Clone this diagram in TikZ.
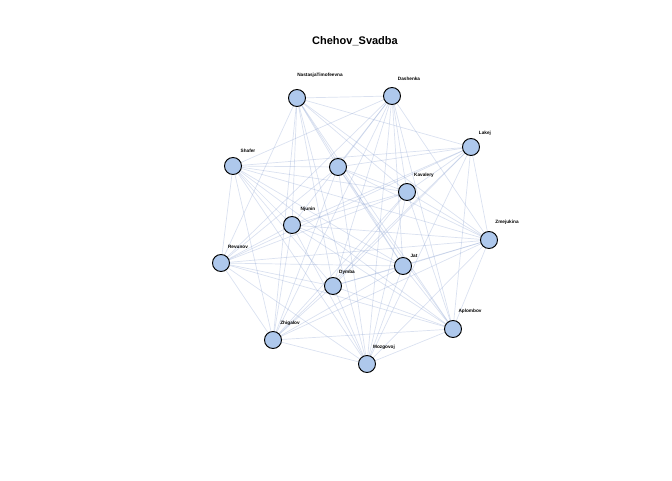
\documentclass[tikz,border=0pt]{standalone}
\usepackage{fontspec}
\setmainfont{Liberation Sans}
\usepackage{tikz}
\usetikzlibrary{positioning}
\definecolor{svedge}{HTML}{8FA5D2}
\definecolor{svnode}{HTML}{AEC8EC}
\tikzset{
  actor/.style={circle, draw=black, line width=0.95pt, fill=svnode, minimum size=17pt, inner sep=0pt},
  actorname/.style={font=\bfseries\fontsize{4.7}{5}\selectfont, inner sep=0pt},
  tie/.style={draw=svedge, line width=0.7pt, opacity=0.33}
}

\begin{document}
\begin{tikzpicture}[x=1pt, y=-1pt]
  \useasboundingbox (0,0) rectangle (672,480);
  \node[font=\bfseries\fontsize{11}{13}\selectfont] (title) at (355,41) {Chehov\_Svadba};
  % actors
  \coordinate (nast) at (297,98);
  \coordinate (dash) at (392,96);
  \coordinate (lakej) at (471,147);
  \coordinate (shafer) at (233,166);
  \coordinate (unl) at (338,167);
  \coordinate (kav) at (407,192);
  \coordinate (zmej) at (489,240);
  \coordinate (njun) at (292,225);
  \coordinate (revun) at (221,263);
  \coordinate (jat) at (403,266);
  \coordinate (dymba) at (333,286);
  \coordinate (aplom) at (453,329);
  \coordinate (zhig) at (273,340);
  \coordinate (mozg) at (367,364);
  \foreach \a/\b in {nast/dash, nast/lakej, nast/zmej, nast/unl, nast/kav, nast/njun,
      nast/revun, nast/dymba, nast/zhig, nast/mozg, nast/jat, nast/aplom,
      dash/shafer, dash/unl, dash/njun, dash/dymba, dash/zhig, dash/mozg, dash/jat,
      dash/aplom, dash/zmej, dash/revun, dash/kav,
      lakej/shafer, lakej/unl, lakej/kav, lakej/zmej, lakej/njun, lakej/revun,
      lakej/dymba, lakej/mozg, lakej/aplom, lakej/zhig,
      shafer/unl, shafer/kav, shafer/zmej, shafer/njun, shafer/revun, shafer/dymba,
      shafer/zhig, shafer/jat, shafer/aplom, shafer/mozg,
      unl/kav, unl/zmej, unl/revun, unl/jat, unl/aplom, unl/mozg, unl/zhig,
      kav/zmej, kav/njun, kav/revun, kav/dymba, kav/aplom, kav/mozg, kav/zhig,
      zmej/njun, zmej/revun, zmej/jat, zmej/dymba, zmej/aplom, zmej/zhig, zmej/mozg,
      njun/revun, njun/jat, njun/aplom, njun/mozg, njun/zhig,
      revun/jat, revun/dymba, revun/aplom, revun/zhig, revun/mozg,
      jat/dymba, jat/aplom, jat/zhig, jat/mozg,
      dymba/aplom, dymba/mozg, dymba/zhig,
      aplom/zhig, aplom/mozg, zhig/mozg}
    \draw[tie] (\a) -- (\b);
  \foreach \n in {nast, dash, lakej, shafer, unl, kav, zmej, njun, revun, jat, dymba, aplom, zhig, mozg}
    \node[actor] (\n-c) at (\n) {};
  % names
  \node[actorname] (nast-l) at (320,75) {NastasjaTimofeevna};
  \node[actorname] (dash-l) at (409,79) {Dashenka};
  \node[actorname] (lakej-l) at (485,133) {Lakej};
  \node[actorname] (shafer-l) at (248,151) {Shafer};
  \node[actorname] (kav-l) at (424,175) {Kavalery};
  \node[actorname] (zmej-l) at (507,222) {Zmejukina};
  \node[actorname] (njun-l) at (308,209) {Njunin};
  \node[actorname] (revun-l) at (238,247) {Revunov};
  \node[actorname] (jat-l) at (414,256) {Jat};
  \node[actorname] (dymba-l) at (347,272) {Dymba};
  \node[actorname] (aplom-l) at (470,311) {Aplombov};
  \node[actorname] (zhig-l) at (290,323) {Zhigalov};
  \node[actorname] (mozg-l) at (384,347) {Mozgovoj};
\end{tikzpicture}
\end{document}
